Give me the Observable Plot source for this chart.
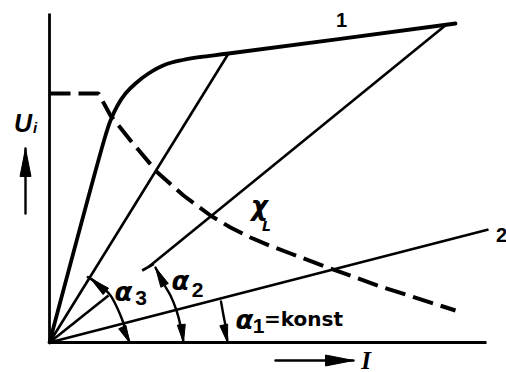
<!DOCTYPE html>
<html><head><meta charset="utf-8">
<script src="https://cdn.jsdelivr.net/npm/d3@7"></script>
<script src="https://cdn.jsdelivr.net/npm/@observablehq/plot@0.6"></script>
<style>body{margin:0;background:#fff}</style>
</head><body><div id="chart"></div>
<script>
// Arbitrary drawing units (same scale on both axes): I (current) horizontal, U_i vertical
const axisIX = [0, 43.7], axisIY = [0, 0];
const axisUX = [0, 0],    axisUY = [0, 32.9];

// characteristic 1 (magnetisation curve)
const curve1X = [0, 5.6, 6.1, 6.8, 7.6, 8.6, 9.9, 11.6, 13.3, 15.1, 17.9, 40.6];
const curve1Y = [0, 20.7, 22.2, 23.7, 24.9, 25.9, 26.9, 27.8, 28.25, 28.55, 28.9, 31.9];

// x_L dashed curve
const chiX = [0, 4.9, 6.1, 8.1, 10.8, 13.4, 16.1, 18.1, 20.1, 22.1, 24.1, 28.1, 33.1, 40.6];
const chiY = [24.9, 24.9, 22.7, 20.2, 17.0, 14.7, 12.7, 11.5, 10.5, 9.65, 8.9, 7.4, 5.6, 3.2];

// straight rays (x1,y1,x2,y2)
const rayX1 = [0, 0, 0, 9.9];
const rayY1 = [0, 0, 0, 7.55];
const rayX2 = [17.9, 43.9, 5.9, 39.7];
const rayY2 = [28.9, 11.3, 4.7, 31.8];

// small end ticks
const tickX1 = [3.75, 9.27], tickY1 = [6.6, 7.2];
const tickX2 = [4.45, 10.43], tickY2 = [6.15, 7.87];

// angle arcs
const arc3X = [4.1, 5.1, 6.1, 6.8, 7.3, 7.7, 8.0];
const arc3Y = [6.4, 5.7, 4.7, 3.4, 2.2, 1.0, 0];
const arc2X = [10.6, 11.4, 12.1, 12.7, 13.1, 13.4];
const arc2Y = [7.5, 5.9, 4.7, 3.2, 1.7, 0];
const arc1X = [17.15, 17.4, 17.65, 17.8];
const arc1Y = [4.1, 2.7, 1.4, 0];

// axis arrows
const uArrowX = [-2.4, -2.4], uArrowY = [12.9, 19.4];
const iArrowX = [22.6, 30.4], iArrowY = [-1.8, -1.8];

// arrow heads: tip position, direction (degrees clockwise from up), length, half-width (drawing units)
const headX   = [-2.4, 30.4, 4.1, 8.0, 10.6, 13.4, 17.8];
const headY   = [19.4, -1.8, 6.4, 0, 7.5, 0, 0];
const headRot = [0, 90, -50, 155, -27, 173, 168];
const headLen = [2.8, 2.8, 2.0, 1.7, 2.0, 1.8, 1.8];
const headHalf = [0.55, 0.55, 0.42, 0.4, 0.42, 0.4, 0.4];

// labels
const curveLabels = ["1", "2"], curveLabelX = [29.2, 45.2], curveLabelY = [32.2, 10.7];
const alphaX = [7.4, 13.1, 19.5], alphaY = [5.0, 6.1, 2.2];
const alphaSub = ["3", "2", "1"], alphaSubX = [9.15, 14.8, 20.9], alphaSubY = [4.4, 5.2, 1.6];

const pts = (xs, ys) => xs.map((x, i) => ({x, y: ys[i]}));
const segs = (x1, y1, x2, y2) => x1.map((v, i) => ({x1: v, y1: y1[i], x2: x2[i], y2: y2[i]}));
// triangles for arrow heads (both axes share the same unit length)
const heads = headX.flatMap((tx, i) => {
  const a = headRot[i] * Math.PI / 180, dx = Math.sin(a), dy = Math.cos(a);
  const bx = tx - headLen[i] * dx, by = headY[i] - headLen[i] * dy;
  const w = headHalf[i];
  return [
    {k: i, x: tx, y: headY[i]},
    {k: i, x: bx + w * dy, y: by - w * dx},
    {k: i, x: bx - w * dy, y: by + w * dx},
    {k: i, x: tx, y: headY[i]}
  ];
});

const chart = Plot.plot({
  width: 506, height: 372,
  marginLeft: 49, marginRight: 20, marginTop: 13, marginBottom: 30,
  x: {domain: [0, 43.7], axis: null},
  y: {domain: [0, 32.9], axis: null},
  marks: [
    Plot.line(pts(axisIX, axisIY), {x: "x", y: "y", stroke: "black", strokeWidth: 2.8, strokeLinecap: "butt"}),
    Plot.line(pts(axisUX, axisUY), {x: "x", y: "y", stroke: "black", strokeWidth: 2.8, strokeLinecap: "butt"}),
    Plot.link(segs(rayX1, rayY1, rayX2, rayY2), {x1: "x1", y1: "y1", x2: "x2", y2: "y2", stroke: "black", strokeWidth: 2.6}),
    Plot.link(segs(tickX1, tickY1, tickX2, tickY2), {x1: "x1", y1: "y1", x2: "x2", y2: "y2", stroke: "black", strokeWidth: 2.6}),
    Plot.line(pts(curve1X, curve1Y), {x: "x", y: "y", curve: "catmull-rom", stroke: "black", strokeWidth: 3.8}),
    Plot.line(pts(chiX, chiY), {x: "x", y: "y", curve: "linear", stroke: "black", strokeWidth: 4, strokeDasharray: "21,8", strokeLinecap: "butt", strokeLinejoin: "miter"}),
    Plot.line(pts(arc3X, arc3Y), {x: "x", y: "y", curve: "catmull-rom", stroke: "black", strokeWidth: 2.4}),
    Plot.line(pts(arc2X, arc2Y), {x: "x", y: "y", curve: "catmull-rom", stroke: "black", strokeWidth: 2.4}),
    Plot.line(pts(arc1X, arc1Y), {x: "x", y: "y", curve: "catmull-rom", stroke: "black", strokeWidth: 2.4}),
    Plot.line(pts(uArrowX, uArrowY), {x: "x", y: "y", stroke: "black", strokeWidth: 2.4}),
    Plot.line(pts(iArrowX, iArrowY), {x: "x", y: "y", stroke: "black", strokeWidth: 2.4}),
    Plot.line(heads, {x: "x", y: "y", z: "k", fill: "black", stroke: "black", strokeWidth: 1, strokeLinejoin: "miter"}),
    Plot.text(curveLabels, {x: curveLabelX, y: curveLabelY, text: d => d, fontFamily: "Liberation Sans", fontWeight: "bold", fontSize: 20, fill: "black"}),
    Plot.text(["α", "α", "α"], {x: alphaX, y: alphaY, text: d => d, fontFamily: "DejaVu Sans", fontStyle: "italic", fontWeight: "bold", fontSize: 26, fill: "black"}),
    Plot.text(alphaSub, {x: alphaSubX, y: alphaSubY, text: d => d, fontFamily: "Liberation Sans", fontWeight: "bold", fontSize: 21, fill: "black"}),
    Plot.text(["=konst"], {x: [21.45], y: [2.25], text: d => d, textAnchor: "start", fontFamily: "DejaVu Sans", fontWeight: "bold", fontSize: 20, fill: "black"}),
    Plot.text(["U"], {x: [-2.65], y: [21.9], text: d => d, fontFamily: "Liberation Sans", fontStyle: "italic", fontWeight: "bold", fontSize: 25, fill: "black"}),
    Plot.text(["i"], {x: [-1.45], y: [21.4], text: d => d, fontFamily: "Liberation Sans", fontStyle: "italic", fontWeight: "bold", fontSize: 15, fill: "black"}),
    Plot.text(["I"], {x: [31.65], y: [-1.8], text: d => d, fontFamily: "Liberation Serif", fontStyle: "italic", fontWeight: "bold", fontSize: 25, fill: "black"}),
    Plot.text(["χ"], {x: [21.0], y: [13.6], text: d => d, fontFamily: "DejaVu Sans", fontStyle: "italic", fontWeight: "bold", fontSize: 26, fill: "black"}),
    Plot.text(["L"], {x: [21.7], y: [11.55], text: d => d, fontFamily: "DejaVu Sans", fontStyle: "italic", fontWeight: "bold", fontSize: 14, fill: "black"})
  ]
});
document.getElementById("chart").appendChild(chart);
</script>
</body></html>
